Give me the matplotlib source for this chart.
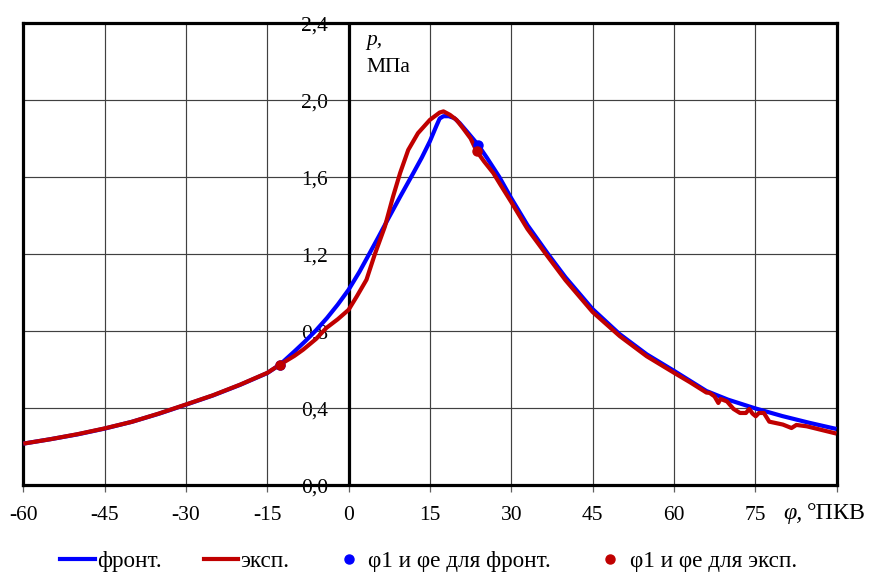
import matplotlib
matplotlib.use("Agg")
import matplotlib.pyplot as plt
import matplotlib.transforms as mtransforms
from matplotlib.lines import Line2D

plt.rcParams['font.family'] = ['Liberation Serif', 'DejaVu Serif']

# ---- data ----
front_phi = [-60, -55, -50, -45, -40, -35, -30, -25, -20, -15, -12.7, -10, -8, -6, -4, -2,
             0, 2, 3.6, 5.5, 7.3, 9.5, 11.9, 13.5, 15.0, 16.2, 16.8, 17.5, 18.5, 19.5, 20.5,
             22, 23.9, 25.5, 27.8, 30, 33, 36.8, 40, 45, 50, 55, 60, 66, 70, 75, 80, 85, 90]
front_p = [0.217, 0.240, 0.265, 0.295, 0.330, 0.372, 0.419, 0.467, 0.522, 0.583, 0.626, 0.695,
           0.748, 0.805, 0.868, 0.938, 1.015, 1.108, 1.19, 1.288, 1.383, 1.497, 1.618, 1.70, 1.785,
           1.865, 1.903, 1.915, 1.915, 1.905, 1.879, 1.83, 1.766, 1.70, 1.60, 1.49, 1.35, 1.20,
           1.08, 0.915, 0.785, 0.68, 0.595, 0.49, 0.445, 0.400, 0.36, 0.325, 0.293]

exp_phi = [-60, -55, -50, -45, -40, -35, -30, -25, -20, -15, -12.7, -10, -8.4, -6, -4.1, -2,
           0, 1.5, 3.3, 4.85, 6.7, 8.2, 9.5, 11.0, 12.8, 15.0, 16.8, 17.5, 18.7, 19.9, 21.1,
           22.5, 23.6, 25, 26.7, 28, 30, 31.6, 33, 36.8, 40, 45, 50, 55, 60, 63, 66, 66.6, 67.5,
           68.2, 68.6, 69.8, 71.0, 72.2, 73.3, 73.9, 74.5, 75.1, 75.7, 76.6, 77.6, 80.1, 81.7,
           82.6, 84.5, 90]
exp_p = [0.217, 0.240, 0.266, 0.296, 0.330, 0.373, 0.420, 0.468, 0.523, 0.584, 0.626, 0.672,
         0.704, 0.760, 0.817, 0.862, 0.911, 0.98, 1.067, 1.20, 1.343, 1.498, 1.620, 1.740,
         1.827, 1.896, 1.934, 1.940, 1.922, 1.896, 1.853, 1.80, 1.735, 1.68, 1.620, 1.56, 1.47,
         1.395, 1.33, 1.185, 1.065, 0.900, 0.775, 0.67, 0.585, 0.535, 0.482, 0.480, 0.462,
         0.428, 0.449, 0.436, 0.397, 0.376, 0.376, 0.397, 0.373, 0.359, 0.376, 0.376, 0.331,
         0.316, 0.298, 0.314, 0.307, 0.269]

front_pts_phi = [-12.7, 23.9]
front_pts_p = [0.626, 1.766]
exp_pts_phi = [-12.7, 23.6]
exp_pts_p = [0.626, 1.735]

x_ticks = [-60, -45, -30, -15, 0, 15, 30, 45, 60, 75]
x_tick_labels = ['-60', '-45', '-30', '-15', '0', '15', '30', '45', '60', '75']
y_ticks = [0.0, 0.4, 0.8, 1.2, 1.6, 2.0, 2.4]
y_tick_labels = ['0,0', '0,4', '0,8', '1,2', '1,6', '2,0', '2,4']

labels = ['фронт.', 'эксп.', 'φ1 и φe для фронт.', 'φ1 и φe для эксп.']

BLUE = '#0000FF'
RED = '#C00000'
FS = 15.5
FS_LEG = 16.7
FS_AX = 17.3

fig = plt.figure(figsize=(8.69, 5.74), dpi=100)
ax = fig.add_axes([0.02681, 0.1542, 0.9358, 0.8063])
ax.set_xlim(-60, 90)
ax.set_ylim(0, 2.4)

# grid
for xv in range(-45, 90, 15):
    ax.axvline(xv, color='#404040', lw=0.85, zorder=2)
for yv in y_ticks[1:-1]:
    ax.axhline(yv, color='#404040', lw=0.85, zorder=2)

ax.axvline(0, color='black', lw=2.3, zorder=3)

for s in ax.spines.values():
    s.set_linewidth(2.3)
    s.set_color('black')
    s.set_zorder(3)

ax.set_xticks(list(range(-60, 91, 15)))
ax.set_xticklabels([])
ax.set_yticks([])
ax.tick_params(axis='x', direction='out', length=5, width=0.9, color='#606060')

# tick labels
for xv, lab in zip(x_ticks, x_tick_labels):
    tr = mtransforms.offset_copy(ax.transData, fig=fig, x=0, y=-34.5, units='dots')
    ax.text(xv, 0, lab, ha='center', va='baseline', fontsize=FS, transform=tr,
            clip_on=False, zorder=1)
for yv, lab in zip(y_ticks, y_tick_labels):
    tr = mtransforms.offset_copy(ax.transData, fig=fig, x=-20.5, y=-7.4, units='dots')
    ax.text(0, yv, lab, ha='right', va='baseline', fontsize=FS, transform=tr,
            clip_on=False, zorder=1)

# axis titles
fig.text(783 / 869, 1 - 519.3 / 574, 'φ,', style='italic', fontsize=FS_AX, ha='left', va='baseline')
fig.text(807 / 869, 1 - 519.3 / 574, '°ПКВ', fontsize=FS_AX, ha='left', va='baseline')
fig.text(366 / 869, 1 - 45 / 574, 'p,', style='italic', fontsize=FS, ha='left', va='baseline')
fig.text(366 / 869, 1 - 72 / 574, 'МПа', fontsize=FS, ha='left', va='baseline')

# curves
ax.plot(front_phi, front_p, color=BLUE, lw=3.0, zorder=4, solid_capstyle='butt')
ax.plot(exp_phi, exp_p, color=RED, lw=3.0, zorder=5, solid_capstyle='butt')
ax.plot(front_pts_phi, front_pts_p, 'o', color=BLUE, ms=6.5, zorder=6)
ax.plot(exp_pts_phi, exp_pts_p, 'o', color=RED, ms=6.5, zorder=7)

handles = [
    Line2D([], [], color=BLUE, lw=3.0),
    Line2D([], [], color=RED, lw=3.0),
    Line2D([], [], color=BLUE, marker='o', ls='none', ms=6.5),
    Line2D([], [], color=RED, marker='o', ls='none', ms=6.5),
]
fig.legend(handles, labels, loc='center', bbox_to_anchor=(428.5 / 869, 1 - 561 / 574),
           ncol=4, frameon=False, fontsize=FS_LEG, handlelength=1.5, handletextpad=0.09,
           columnspacing=1.81, borderpad=0, borderaxespad=0)

fig.savefig('out.png', dpi=100)
